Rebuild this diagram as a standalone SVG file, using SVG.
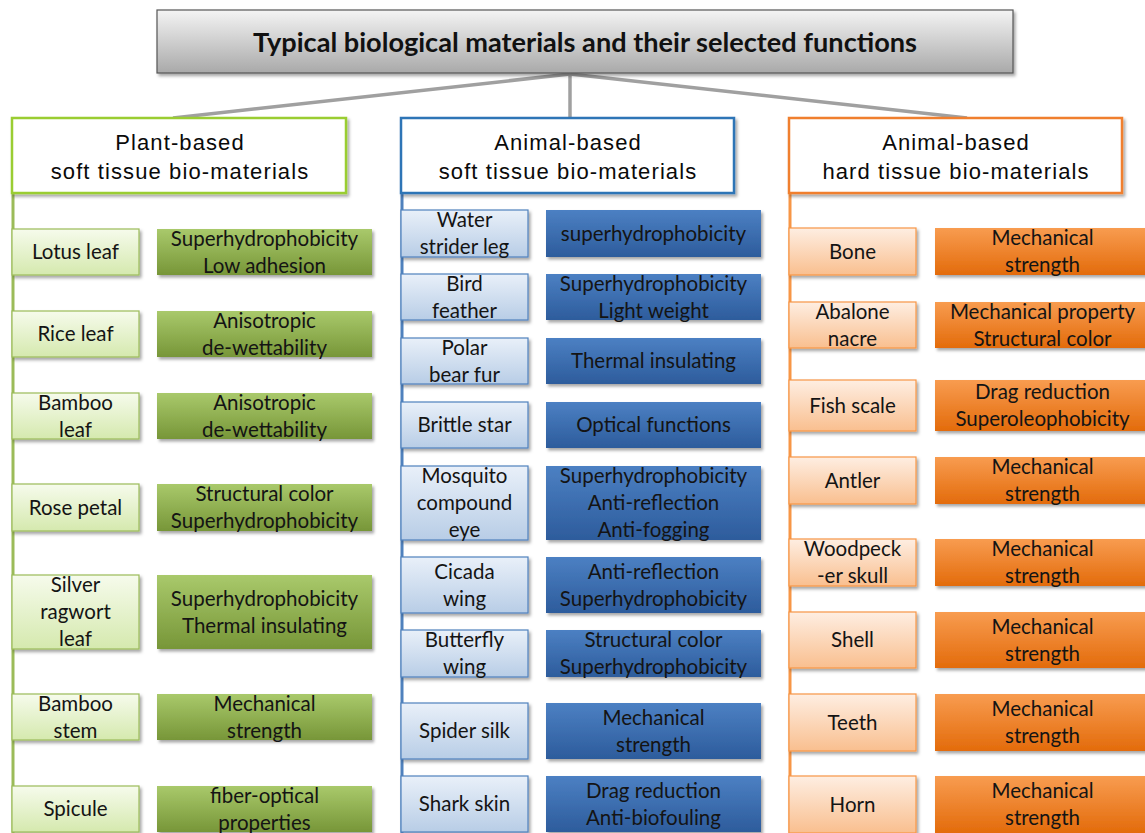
<svg xmlns="http://www.w3.org/2000/svg" width="1145" height="833" viewBox="0 0 1145 833">
<defs>
<linearGradient id="gTitle" x1="0" y1="0" x2="0" y2="1"><stop offset="0" stop-color="#f4f4f4"/><stop offset="1" stop-color="#a9a9a9"/></linearGradient>
<linearGradient id="gPN" x1="0" y1="0" x2="0" y2="1"><stop offset="0" stop-color="#f6fbec"/><stop offset="1" stop-color="#d5e9ae"/></linearGradient>
<linearGradient id="gPF" x1="0" y1="0" x2="0" y2="1"><stop offset="0" stop-color="#a9c96b"/><stop offset="1" stop-color="#779638"/></linearGradient>
<linearGradient id="gBN" x1="0" y1="0" x2="0" y2="1"><stop offset="0" stop-color="#e9f0f9"/><stop offset="1" stop-color="#b8cde6"/></linearGradient>
<linearGradient id="gBF" x1="0" y1="0" x2="0" y2="1"><stop offset="0" stop-color="#4c80c3"/><stop offset="1" stop-color="#2d5c9c"/></linearGradient>
<linearGradient id="gON" x1="0" y1="0" x2="0" y2="1"><stop offset="0" stop-color="#feeee2"/><stop offset="1" stop-color="#f9bf8f"/></linearGradient>
<linearGradient id="gOF" x1="0" y1="0" x2="0" y2="1"><stop offset="0" stop-color="#f89c50"/><stop offset="1" stop-color="#e36b0b"/></linearGradient>
<filter id="sh" x="-10%" y="-10%" width="130%" height="140%"><feDropShadow dx="2" dy="2.5" stdDeviation="1.5" flood-color="#000" flood-opacity="0.35"/></filter>
</defs>
<style>
.t{font-family:Lato,"Open Sans","Liberation Sans",sans-serif;font-size:20.5px;fill:#141414;text-anchor:middle}
.h{font-family:"Liberation Sans",Arial,sans-serif;font-size:22px;letter-spacing:1.1px;fill:#0a0a0a;text-anchor:middle}
.ttl{font-family:Lato,"Liberation Sans",sans-serif;font-size:26px;font-weight:bold;fill:#111;text-anchor:middle}
.pn{fill:url(#gPN);stroke:#9bbb59;stroke-width:1.2;filter:url(#sh)}
.pf{fill:url(#gPF);filter:url(#sh)}
.bn{fill:url(#gBN);stroke:#4f81bd;stroke-width:1.2;filter:url(#sh)}
.bf{fill:url(#gBF);filter:url(#sh)}
.on{fill:url(#gON);stroke:#f79646;stroke-width:1.2;filter:url(#sh)}
.of{fill:url(#gOF);filter:url(#sh)}
.hd{fill:#fff;stroke-width:2.5;filter:url(#sh)}
.cn{fill:none;stroke:#a0a0a0;stroke-width:3.5}
</style>
<rect width="1145" height="833" fill="#fff"/>
<g id="connectors">
<line class="cn" x1="570" y1="74" x2="173" y2="118"/>
<line class="cn" x1="570" y1="74" x2="570" y2="118"/>
<line class="cn" x1="570" y1="74" x2="967" y2="118"/>
<line x1="13" y1="192" x2="13" y2="833" stroke="#9bbb59" stroke-width="3"/>
<line x1="402" y1="192" x2="402" y2="833" stroke="#4f81bd" stroke-width="3"/>
<line x1="790" y1="192" x2="790" y2="833" stroke="#f79646" stroke-width="3"/>
</g>
<g id="title">
<rect x="157" y="10" width="856" height="63" fill="url(#gTitle)" stroke="#555" stroke-width="1.2" filter="url(#sh)"/>
<text class="ttl" x="585" y="52" textLength="664" lengthAdjust="spacingAndGlyphs">Typical biological materials and their selected functions</text>
</g>
<g id="hdr-plant">
<rect class="hd" x="12" y="118" width="334" height="75" stroke="#9acd32"/>
<text class="h" x="180" y="150">Plant-based</text>
<text class="h" x="180" y="179">soft tissue bio-materials</text>
</g>
<g id="hdr-animal-soft">
<rect class="hd" x="401" y="118" width="333" height="75" stroke="#2e75b6"/>
<text class="h" x="568" y="150">Animal-based</text>
<text class="h" x="568" y="179">soft tissue bio-materials</text>
</g>
<g id="hdr-animal-hard">
<rect class="hd" x="789" y="118" width="333" height="75" stroke="#f07f2e"/>
<text class="h" x="956" y="150">Animal-based</text>
<text class="h" x="956" y="179">hard tissue bio-materials</text>
</g>
<g id="p1"><rect class="pn" x="12" y="229" width="127" height="46"/><text class="t" x="75.5" y="259">Lotus leaf</text>
<rect class="pf" x="157" y="229" width="215" height="46"/><text class="t" x="264.5" y="245.5">Superhydrophobicity</text><text class="t" x="264.5" y="272.5">Low adhesion</text></g>
<g id="p2"><rect class="pn" x="12" y="311" width="127" height="46"/><text class="t" x="75.5" y="341">Rice leaf</text>
<rect class="pf" x="157" y="311" width="215" height="46"/><text class="t" x="264.5" y="327.5">Anisotropic</text><text class="t" x="264.5" y="354.5">de-wettability</text></g>
<g id="p3"><rect class="pn" x="12" y="393" width="127" height="46"/><text class="t" x="75.5" y="409.5">Bamboo</text><text class="t" x="75.5" y="436.5">leaf</text>
<rect class="pf" x="157" y="393" width="215" height="46"/><text class="t" x="264.5" y="409.5">Anisotropic</text><text class="t" x="264.5" y="436.5">de-wettability</text></g>
<g id="p4"><rect class="pn" x="12" y="484" width="127" height="47"/><text class="t" x="75.5" y="514.5">Rose petal</text>
<rect class="pf" x="157" y="484" width="215" height="47"/><text class="t" x="264.5" y="501">Structural color</text><text class="t" x="264.5" y="528">Superhydrophobicity</text></g>
<g id="p5"><rect class="pn" x="12" y="575" width="127" height="74"/><text class="t" x="75.5" y="592">Silver</text><text class="t" x="75.5" y="619">ragwort</text><text class="t" x="75.5" y="646">leaf</text>
<rect class="pf" x="157" y="575" width="215" height="74"/><text class="t" x="264.5" y="605.5">Superhydrophobicity</text><text class="t" x="264.5" y="632.5">Thermal insulating</text></g>
<g id="p6"><rect class="pn" x="12" y="694" width="127" height="46"/><text class="t" x="75.5" y="710.5">Bamboo</text><text class="t" x="75.5" y="737.5">stem</text>
<rect class="pf" x="157" y="694" width="215" height="46"/><text class="t" x="264.5" y="710.5">Mechanical</text><text class="t" x="264.5" y="737.5">strength</text></g>
<g id="p7"><rect class="pn" x="12" y="786" width="127" height="46"/><text class="t" x="75.5" y="816">Spicule</text>
<rect class="pf" x="157" y="786" width="215" height="46"/><text class="t" x="264.5" y="802.5">fiber-optical</text><text class="t" x="264.5" y="829.5">properties</text></g>
<g id="s1"><rect class="bn" x="401" y="210" width="127" height="47"/><text class="t" x="464.5" y="227">Water</text><text class="t" x="464.5" y="254">strider leg</text>
<rect class="bf" x="546" y="210" width="215" height="47"/><text class="t" x="653.5" y="240.5">superhydrophobicity</text></g>
<g id="s2"><rect class="bn" x="401" y="274" width="127" height="46"/><text class="t" x="464.5" y="290.5">Bird</text><text class="t" x="464.5" y="317.5">feather</text>
<rect class="bf" x="546" y="274" width="215" height="46"/><text class="t" x="653.5" y="290.5">Superhydrophobicity</text><text class="t" x="653.5" y="317.5">Light weight</text></g>
<g id="s3"><rect class="bn" x="401" y="338" width="127" height="46"/><text class="t" x="464.5" y="354.5">Polar</text><text class="t" x="464.5" y="381.5">bear fur</text>
<rect class="bf" x="546" y="338" width="215" height="46"/><text class="t" x="653.5" y="368">Thermal insulating</text></g>
<g id="s4"><rect class="bn" x="401" y="402" width="127" height="46"/><text class="t" x="464.5" y="432">Brittle star</text>
<rect class="bf" x="546" y="402" width="215" height="46"/><text class="t" x="653.5" y="432">Optical functions</text></g>
<g id="s5"><rect class="bn" x="401" y="466" width="127" height="74"/><text class="t" x="464.5" y="483">Mosquito</text><text class="t" x="464.5" y="510">compound</text><text class="t" x="464.5" y="537">eye</text>
<rect class="bf" x="546" y="466" width="215" height="74"/><text class="t" x="653.5" y="483">Superhydrophobicity</text><text class="t" x="653.5" y="510">Anti-reflection</text><text class="t" x="653.5" y="537">Anti-fogging</text></g>
<g id="s6"><rect class="bn" x="401" y="557" width="127" height="56"/><text class="t" x="464.5" y="578.5">Cicada</text><text class="t" x="464.5" y="605.5">wing</text>
<rect class="bf" x="546" y="557" width="215" height="56"/><text class="t" x="653.5" y="578.5">Anti-reflection</text><text class="t" x="653.5" y="605.5">Superhydrophobicity</text></g>
<g id="s7"><rect class="bn" x="401" y="630" width="127" height="47"/><text class="t" x="464.5" y="647">Butterfly</text><text class="t" x="464.5" y="674">wing</text>
<rect class="bf" x="546" y="630" width="215" height="47"/><text class="t" x="653.5" y="647">Structural color</text><text class="t" x="653.5" y="674">Superhydrophobicity</text></g>
<g id="s8"><rect class="bn" x="401" y="703" width="127" height="56"/><text class="t" x="464.5" y="738">Spider silk</text>
<rect class="bf" x="546" y="703" width="215" height="56"/><text class="t" x="653.5" y="724.5">Mechanical</text><text class="t" x="653.5" y="751.5">strength</text></g>
<g id="s9"><rect class="bn" x="401" y="776" width="127" height="56"/><text class="t" x="464.5" y="811">Shark skin</text>
<rect class="bf" x="546" y="776" width="215" height="56"/><text class="t" x="653.5" y="797.5">Drag reduction</text><text class="t" x="653.5" y="824.5">Anti-biofouling</text></g>
<g id="h1"><rect class="on" x="789" y="228" width="127" height="47"/><text class="t" x="852.5" y="258.5">Bone</text>
<rect class="of" x="935" y="228" width="215" height="47"/><text class="t" x="1042.5" y="245">Mechanical</text><text class="t" x="1042.5" y="272">strength</text></g>
<g id="h2"><rect class="on" x="789" y="302" width="127" height="46"/><text class="t" x="852.5" y="318.5">Abalone</text><text class="t" x="852.5" y="345.5">nacre</text>
<rect class="of" x="935" y="302" width="215" height="46"/><text class="t" x="1042.5" y="318.5">Mechanical property</text><text class="t" x="1042.5" y="345.5">Structural color</text></g>
<g id="h3"><rect class="on" x="789" y="380" width="127" height="51"/><text class="t" x="852.5" y="412.5">Fish scale</text>
<rect class="of" x="935" y="380" width="215" height="51"/><text class="t" x="1042.5" y="399">Drag reduction</text><text class="t" x="1042.5" y="426">Superoleophobicity</text></g>
<g id="h4"><rect class="on" x="789" y="457" width="127" height="47"/><text class="t" x="852.5" y="487.5">Antler</text>
<rect class="of" x="935" y="457" width="215" height="47"/><text class="t" x="1042.5" y="474">Mechanical</text><text class="t" x="1042.5" y="501">strength</text></g>
<g id="h5"><rect class="on" x="789" y="539" width="127" height="47"/><text class="t" x="852.5" y="556">Woodpeck</text><text class="t" x="852.5" y="583">-er skull</text>
<rect class="of" x="935" y="539" width="215" height="47"/><text class="t" x="1042.5" y="556">Mechanical</text><text class="t" x="1042.5" y="583">strength</text></g>
<g id="h6"><rect class="on" x="789" y="612" width="127" height="56"/><text class="t" x="852.5" y="647">Shell</text>
<rect class="of" x="935" y="612" width="215" height="56"/><text class="t" x="1042.5" y="633.5">Mechanical</text><text class="t" x="1042.5" y="660.5">strength</text></g>
<g id="h7"><rect class="on" x="789" y="694" width="127" height="57"/><text class="t" x="852.5" y="729.5">Teeth</text>
<rect class="of" x="935" y="694" width="215" height="57"/><text class="t" x="1042.5" y="716">Mechanical</text><text class="t" x="1042.5" y="743">strength</text></g>
<g id="h8"><rect class="on" x="789" y="776" width="127" height="57"/><text class="t" x="852.5" y="811.5">Horn</text>
<rect class="of" x="935" y="776" width="215" height="57"/><text class="t" x="1042.5" y="798">Mechanical</text><text class="t" x="1042.5" y="825">strength</text></g>
</svg>
